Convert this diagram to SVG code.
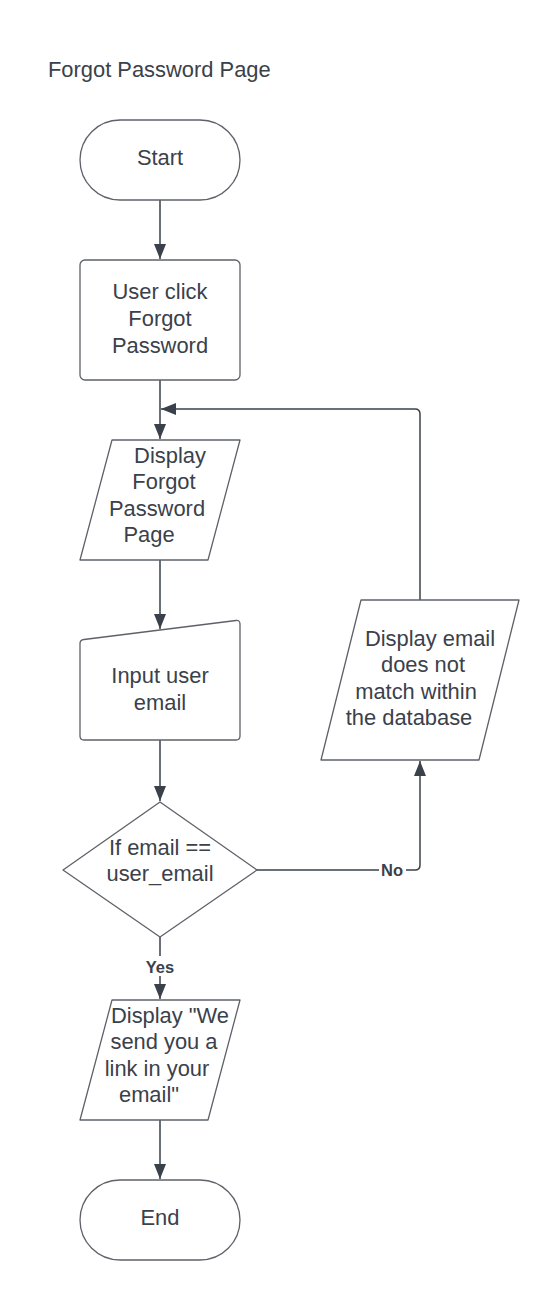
<svg xmlns="http://www.w3.org/2000/svg" width="560" height="1300" viewBox="0 0 560 1300">
<defs>
<style>
.t{font-family:"Liberation Sans",Arial,sans-serif;font-size:21.9px;fill:#3a414a;text-anchor:middle}
.title{font-family:"Liberation Sans",Arial,sans-serif;font-size:21.9px;fill:#3a414a}
.lbl{font-family:"Liberation Sans",Arial,sans-serif;font-size:16.5px;font-weight:bold;fill:#3a414a;text-anchor:middle}
.s{fill:#ffffff;stroke:#5e6168;stroke-width:1.3;stroke-linejoin:round}
.c{fill:none;stroke:#3a414a;stroke-width:1.5}
</style>
<marker id="ah" viewBox="0 0 15 12" refX="15" refY="6" markerWidth="15" markerHeight="12" markerUnits="userSpaceOnUse" orient="auto">
<path d="M0,0 L15,6 L0,12 Z" fill="#3a414a"/>
</marker>
</defs>
<rect width="560" height="1300" fill="#ffffff"/>
<text class="title" x="48" y="77">Forgot Password Page</text>

<g id="connectors">
<path class="c" d="M160,200 V259" marker-end="url(#ah)"/>
<path class="c" d="M160,380 V439" marker-end="url(#ah)"/>
<path class="c" d="M160,560 V629" marker-end="url(#ah)"/>
<path class="c" d="M160,740 V801" marker-end="url(#ah)"/>
<path class="c" d="M160,937 V999" marker-end="url(#ah)"/>
<path class="c" d="M160,1120 V1179" marker-end="url(#ah)"/>
<path class="c" d="M257,870 H415 Q420,870 420,865 V761" marker-end="url(#ah)"/>
<path class="c" d="M420,600 V414 Q420,409 415,409 H161" marker-end="url(#ah)"/>
<rect x="379" y="860" width="27" height="20" fill="#ffffff"/>
<text class="lbl" x="392" y="876">No</text>
<rect x="143" y="956" width="34" height="20" fill="#ffffff"/>
<text class="lbl" x="160" y="973">Yes</text>
</g>

<g id="start">
<rect class="s" x="80" y="120" width="160" height="80" rx="40" ry="40"/>
<text class="t" x="160" y="165">Start</text>
</g>

<g id="user-click">
<rect class="s" x="80" y="260" width="160" height="120" rx="5" ry="5"/>
<text class="t" x="160" y="299">User click</text>
<text class="t" x="160" y="326">Forgot</text>
<text class="t" x="160" y="353">Password</text>
</g>

<g id="display-forgot">
<polygon class="s" points="112,440 240,440 208,560 80,560"/>
<text class="t" x="170" y="463">Display</text>
<text class="t" x="164" y="489">Forgot</text>
<text class="t" x="157" y="516">Password</text>
<text class="t" x="149" y="542">Page</text>
</g>

<g id="input-email">
<path class="s" d="M84,639.5 L236,620.5 Q240,620 240,624 V736 Q240,740 236,740 H84 Q80,740 80,736 V643.5 Q80,640 84,639.5 Z"/>
<text class="t" x="160" y="683">Input user</text>
<text class="t" x="160" y="710">email</text>
</g>

<g id="decision">
<polygon class="s" points="160,802 257,870 160,937 63,870"/>
<text class="t" x="160" y="855">If email ==</text>
<text class="t" x="160" y="881">user_email</text>
</g>

<g id="display-nomatch">
<polygon class="s" points="361,600 519,600 479,760 321,760"/>
<text class="t" x="430" y="646">Display email</text>
<text class="t" x="423" y="672">does not</text>
<text class="t" x="416" y="699">match within</text>
<text class="t" x="409" y="725">the database</text>
</g>

<g id="display-sent">
<polygon class="s" points="112,1000 240,1000 208,1120 80,1120"/>
<text class="t" x="170" y="1023">Display "We</text>
<text class="t" x="164" y="1049">send you a</text>
<text class="t" x="157" y="1076">link in your</text>
<text class="t" x="149" y="1102">email"</text>
</g>

<g id="end">
<rect class="s" x="80" y="1180" width="160" height="80" rx="40" ry="40"/>
<text class="t" x="160" y="1225">End</text>
</g>
</svg>
